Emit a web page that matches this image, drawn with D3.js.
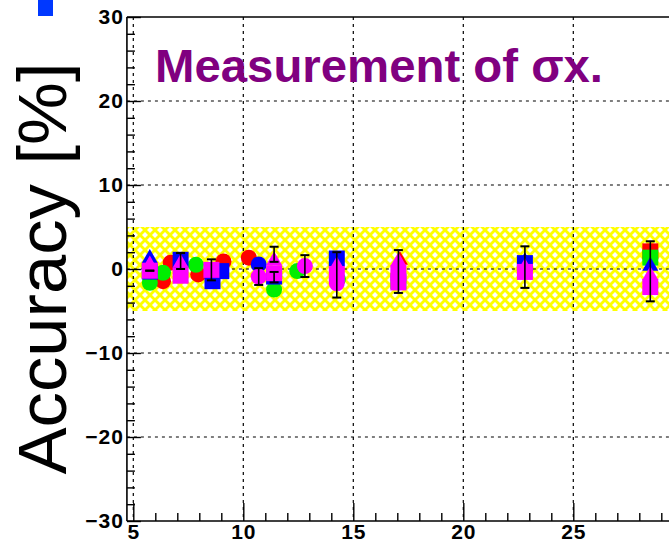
<!DOCTYPE html>
<html>
<head>
<meta charset="utf-8">
<script src="https://cdn.jsdelivr.net/npm/d3@7"></script>
<style>
  html, body { margin: 0; padding: 0; background: #fff; }
  svg { display: block; }
  text { font-family: "Liberation Sans", Arial, Helvetica, sans-serif; }
</style>
</head>
<body>
<svg id="chart" width="669" height="544"></svg>
<script>
// ---- axis setup ----
const xMajorTicks = [5, 10, 15, 20, 25];
const xMinorTicks = [6, 7, 8, 9, 11, 12, 13, 14, 16, 17, 18, 19, 21, 22, 23, 24, 26, 27, 28, 29];
const yMajorTicks = [-30, -20, -10, 0, 10, 20, 30];
const yMinorTicks = [-28, -26, -24, -22, -18, -16, -14, -12, -8, -6, -4, -2, 2, 4, 6, 8, 12, 14, 16, 18, 22, 24, 26, 28];
const xGridLines = [5, 10, 15, 20, 25];
const yGridLines = [-20, -10, 0, 10, 20];
const toleranceBand = [-5, 5];

const titleText = "Measurement of \u03c3x.";
const yTitleText = "Accuracy [%]";

// ---- measured accuracy per data set (x, accuracy %, optional lo/hi errors) ----
const redCircles = [
  { x: 6.35, y: -1.45 }, { x: 6.7, y: 0.75 }, { x: 7.95, y: -0.65 },
  { x: 9.1, y: 0.9 }, { x: 10.25, y: 1.35 }
];
const greenCircles = [
  { x: 5.75, y: -1.65 }, { x: 6.35, y: -0.45 }, { x: 7.85, y: 0.5 },
  { x: 11.4, y: -2.45 }, { x: 12.45, y: -0.25 }, { x: 14.3, y: -1.2 }
];
const redTriangles = [{ x: 17.12, y: 1.05 }];
const redSquares = [{ x: 28.5, y: 2.1 }];
const greenSquares = [{ x: 17.05, y: -1.45 }, { x: 28.5, y: 1.35 }];
const blueSquares = [
  { x: 5.75, y: -0.3 }, { x: 7.15, y: 1.1 }, { x: 8.6, y: -1.45 }, { x: 9.0, y: -0.25 },
  { x: 11.4, y: -0.9 }, { x: 14.25, y: 1.25 }, { x: 22.8, y: 0.7 }
];
const blueCircles = [{ x: 10.7, y: 0.55 }];
const blueTriangles = [{ x: 5.75, y: 1.28 }, { x: 22.8, y: 0.9 }, { x: 28.5, y: 0.35 }];
const magentaTriangles = [
  { x: 5.75, y: 0.5 }, { x: 7.15, y: 0.7, lo: 0.7, hi: 1.2 }, { x: 11.4, y: 1.0, lo: 0.15, hi: 1.65 },
  { x: 14.25, y: 0.4 }, { x: 17.05, y: 0.9 }, { x: 22.8, y: 0.2 }, { x: 28.5, y: -0.75 }
];
const magentaSquares = [
  { x: 5.75, y: -0.2, lo: 0, hi: 0 }, { x: 7.15, y: -0.8 }, { x: 8.55, y: -0.1, lo: 1.25, hi: 1.25 },
  { x: 11.4, y: -0.5, lo: 1.1, hi: 0.15 }, { x: 17.05, y: -0.5, lo: 2.35, hi: 2.75 },
  { x: 22.8, y: -0.35, lo: 1.9, hi: 3.05 }, { x: 28.5, y: -2.15, lo: 1.7, hi: 5.45 }
];
const magentaSquaresB = [{ x: 14.25, y: -0.6 }, { x: 17.05, y: -1.6 }];
const magentaCircles = [
  { x: 10.7, y: -0.9, lo: 1.0, hi: 1.0 }, { x: 12.8, y: 0.35, lo: 1.3, hi: 1.3 },
  { x: 14.25, y: -1.7, lo: 1.7, hi: 3.7 }
];

// draw order: first listed ends up underneath
const series = [
  { data: redCircles, color: "#ff0000", shape: "circle" },
  { data: redTriangles, color: "#ff0000", shape: "triangle" },
  { data: redSquares, color: "#ff0000", shape: "square" },
  { data: greenCircles, color: "#00ee00", shape: "circle" },
  { data: greenSquares, color: "#00ee00", shape: "square" },
  { data: blueSquares, color: "#0000ff", shape: "square" },
  { data: blueCircles, color: "#0000ff", shape: "circle" },
  { data: blueTriangles, color: "#0000ff", shape: "triangle" },
  { data: magentaSquaresB, color: "#ff00ff", shape: "square" },
  { data: magentaCircles, color: "#ff00ff", shape: "circle" },
  { data: magentaSquares, color: "#ff00ff", shape: "square" },
  { data: magentaTriangles, color: "#ff00ff", shape: "triangle" }
];

// ---- layout ----
const W = 669, H = 544;
const svg = d3.select("#chart");
const x = d3.scaleLinear().domain([5, 25]).range([133.3, 573.3]);
const y = d3.scaleLinear().domain([-30, 30]).range([521, 17]);
const xLo = 4.71, xHi = x.invert(W + 5);

const defs = svg.append("defs");
const pat = defs.append("pattern")
  .attr("id", "xhatch").attr("patternUnits", "userSpaceOnUse")
  .attr("width", 10).attr("height", 10);
pat.append("rect").attr("width", 10).attr("height", 10).attr("fill", "#ffff00");
[[0, 0], [10, 0], [0, 10], [10, 10], [5, 5]].forEach(([cx, cy]) => {
  const r = 3;
  pat.append("path")
    .attr("d", `M${cx - r},${cy}L${cx},${cy - r}L${cx + r},${cy}L${cx},${cy + r}Z`)
    .attr("fill", "#ffffff");
});

// tolerance band (±5 %)
svg.append("rect")
  .attr("x", x(xLo)).attr("width", x(xHi) - x(xLo))
  .attr("y", y(toleranceBand[1])).attr("height", y(toleranceBand[0]) - y(toleranceBand[1]))
  .attr("fill", "url(#xhatch)");

// dotted grid
const grid = svg.append("g").attr("stroke", "#000").attr("stroke-width", 1.2)
  .attr("stroke-dasharray", "3,4");
grid.selectAll("line.v").data(xGridLines).join("line").attr("class", "v")
  .attr("x1", d => x(d)).attr("x2", d => x(d)).attr("y1", y(30)).attr("y2", y(-30));
grid.selectAll("line.h").data(yGridLines).join("line").attr("class", "h")
  .attr("x1", x(xLo)).attr("x2", x(xHi)).attr("y1", d => y(d)).attr("y2", d => y(d));

// frame top edge
svg.append("line").attr("x1", x(xLo)).attr("x2", x(xHi)).attr("y1", y(30)).attr("y2", y(30))
  .attr("stroke", "#000").attr("stroke-width", 1.5);

const fmt = d3.format("d");
const labelFont = g => g.selectAll("text")
  .attr("font-size", 21).attr("font-weight", "bold").attr("fill", "#000")
  .attr("letter-spacing", 1);

// x axis
const xAxisG = svg.append("g").attr("transform", `translate(0,${y(-30)})`);
xAxisG.append("g").call(d3.axisBottom(x).tickValues(xMinorTicks).tickSize(-8).tickFormat(""))
  .call(g => g.select(".domain").remove());
xAxisG.append("g").call(d3.axisBottom(x).tickValues(xMajorTicks).tickSize(-18).tickPadding(3).tickFormat(fmt))
  .call(g => g.select(".domain").remove())
  .call(labelFont);
xAxisG.selectAll("line").attr("stroke-width", 1.4);
xAxisG.append("line").attr("x1", x(xLo)).attr("x2", x(xHi)).attr("stroke", "#000").attr("stroke-width", 1.6);

// y axis
const yAxisG = svg.append("g").attr("transform", `translate(${x(xLo)},0)`);
yAxisG.append("g").call(d3.axisLeft(y).tickValues(yMinorTicks).tickSize(-8).tickFormat(""))
  .call(g => g.select(".domain").remove());
yAxisG.append("g").call(d3.axisLeft(y).tickValues(yMajorTicks).tickSize(-14).tickPadding(3).tickFormat(fmt))
  .call(g => g.select(".domain").remove())
  .call(labelFont);
yAxisG.selectAll("line").attr("stroke-width", 1.4);
yAxisG.append("line").attr("y1", y(30)).attr("y2", y(-30)).attr("stroke", "#000").attr("stroke-width", 1.6);

// markers
const shapes = {
  circle: d3.symbol().type(d3.symbolCircle).size(201),
  square: d3.symbol().type(d3.symbolSquare).size(256),
  triangle: d3.symbol().type(d3.symbolTriangle).size(112)
};
const markG = svg.append("g");
series.forEach(s => {
  markG.append("g").selectAll("path").data(s.data).join("path")
    .attr("transform", d => `translate(${x(d.x)},${y(d.y)})`)
    .attr("d", shapes[s.shape]())
    .attr("fill", s.color);
});

// error bars on top of the markers
const errPts = series.flatMap(s => s.data.filter(d => d.lo !== undefined));
const errG = svg.append("g").attr("stroke", "#000").attr("stroke-width", 1.6);
errPts.forEach(d => {
  const px = x(d.x), top = y(d.y + d.hi), bot = y(d.y - d.lo);
  errG.append("line").attr("x1", px).attr("x2", px).attr("y1", top).attr("y2", bot);
  errG.append("line").attr("x1", px - 4.5).attr("x2", px + 4.5).attr("y1", top).attr("y2", top).attr("stroke-width", 2);
  errG.append("line").attr("x1", px - 4.5).attr("x2", px + 4.5).attr("y1", bot).attr("y2", bot).attr("stroke-width", 2);
});

// title inside the frame
svg.append("text")
  .attr("x", 155).attr("y", 82)
  .attr("font-size", 46).attr("font-weight", "bold").attr("fill", "#800080")
  .attr("textLength", 448).attr("lengthAdjust", "spacingAndGlyphs")
  .text(titleText);

// y axis title
svg.append("text")
  .attr("transform", `translate(66,${(62 + 475) / 2}) rotate(-90)`)
  .attr("text-anchor", "middle")
  .attr("font-size", 68).attr("fill", "#000")
  .attr("textLength", 412).attr("lengthAdjust", "spacingAndGlyphs")
  .text(yTitleText);

// legend swatch peeking in at the top
svg.append("rect").attr("x", 38).attr("y", 0).attr("width", 15).attr("height", 16).attr("fill", "#0038ff");
</script>
</body>
</html>
